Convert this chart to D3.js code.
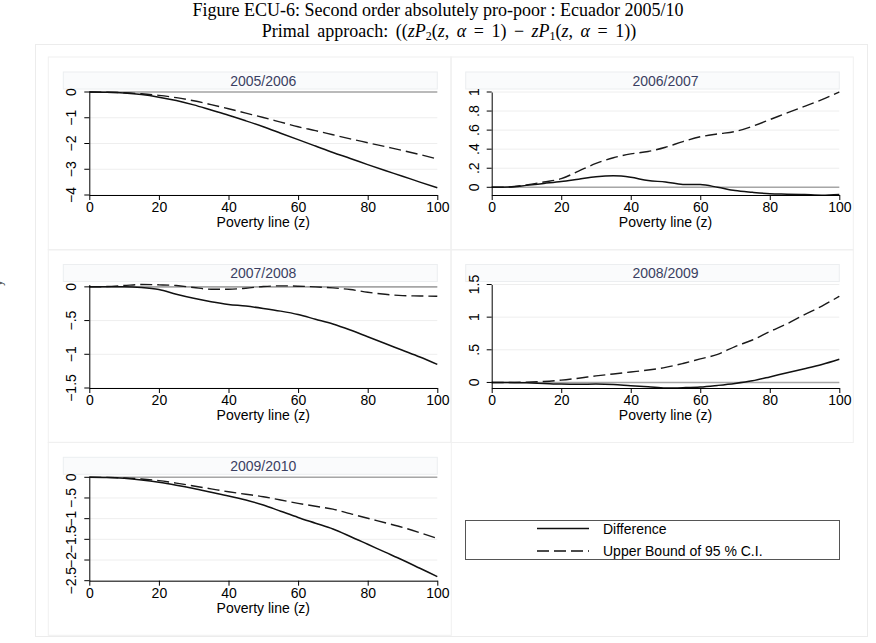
<!DOCTYPE html>
<html>
<head>
<meta charset="utf-8">
<script src="https://cdn.jsdelivr.net/npm/d3@7"></script>
<style>
  body { margin: 0; background: #fff; }
  svg { display: block; }
</style>
</head>
<body>
<div id="chart"></div>
<script>
var W = 876, H = 643;

// poverty line grid (z)
var zLine = [0, 5, 10, 15, 20, 25, 30, 35, 40, 45, 50, 55, 60, 65, 70, 75, 80, 85, 90, 95, 100];

var years = ['2005/2006', '2006/2007', '2007/2008', '2008/2009', '2009/2010'];

var diff0506 = [0, -0.01, -0.04, -0.1, -0.2, -0.33, -0.5, -0.7, -0.9, -1.12, -1.35, -1.6, -1.85, -2.1, -2.35, -2.58, -2.82, -3.05, -3.27, -3.5, -3.72];
var upper0506 = [0, -0.01, -0.03, -0.07, -0.13, -0.22, -0.34, -0.49, -0.65, -0.82, -0.99, -1.17, -1.35, -1.5, -1.66, -1.82, -1.97, -2.12, -2.27, -2.43, -2.6];

var diff0607 = [0, 0.003, 0.02, 0.04, 0.06, 0.085, 0.11, 0.12, 0.105, 0.07, 0.056, 0.03, 0.028, 0.0, -0.035, -0.053, -0.067, -0.072, -0.077, -0.083, -0.075];
var upper0607 = [0, 0.003, 0.025, 0.055, 0.09, 0.17, 0.25, 0.31, 0.35, 0.375, 0.42, 0.48, 0.53, 0.56, 0.585, 0.64, 0.71, 0.78, 0.85, 0.92, 1.0];

var diff0708 = [0, 0, 0, -0.01, -0.04, -0.11, -0.17, -0.22, -0.26, -0.285, -0.32, -0.36, -0.41, -0.48, -0.55, -0.64, -0.74, -0.84, -0.94, -1.04, -1.15];
var upper0708 = [0, 0.005, 0.02, 0.035, 0.03, 0.02, -0.01, -0.035, -0.035, -0.02, 0.005, 0.015, 0.01, 0, -0.015, -0.04, -0.08, -0.11, -0.13, -0.135, -0.14];

var diff0809 = [0, 0, -0.005, -0.015, -0.025, -0.028, -0.025, -0.03, -0.05, -0.065, -0.085, -0.08, -0.07, -0.045, -0.015, 0.025, 0.085, 0.15, 0.21, 0.275, 0.355];
var upper0809 = [0, 0, 0.005, 0.015, 0.035, 0.065, 0.1, 0.13, 0.16, 0.19, 0.23, 0.29, 0.36, 0.43, 0.55, 0.65, 0.78, 0.9, 1.04, 1.17, 1.32];

var diff0910 = [0, -0.005, -0.025, -0.065, -0.12, -0.19, -0.27, -0.36, -0.45, -0.55, -0.67, -0.82, -0.97, -1.11, -1.25, -1.43, -1.62, -1.81, -2.0, -2.2, -2.4];
var upper0910 = [0, -0.003, -0.015, -0.04, -0.08, -0.14, -0.21, -0.28, -0.35, -0.41, -0.47, -0.55, -0.63, -0.7, -0.77, -0.88, -0.99, -1.1, -1.21, -1.34, -1.48];

var xTicks = [0, 20, 40, 60, 80, 100];
var yTicks = [
  [0, -1, -2, -3, -4],
  [0, 0.2, 0.4, 0.6, 0.8, 1],
  [0, -0.5, -1, -1.5],
  [0, 0.5, 1, 1.5],
  [0, -0.5, -1, -1.5, -2, -2.5]
];
var yDomains = [[-4, 0], [-0.081, 1], [-1.5, 0.035], [-0.085, 1.5], [-2.5, 0]];
var diffs = [diff0506, diff0607, diff0708, diff0809, diff0910];
var uppers = [upper0506, upper0607, upper0708, upper0809, upper0910];
var legendLabels = ['Difference', 'Upper Bound of 95 % C.I.'];

var svg = d3.select('#chart').append('svg')
  .attr('width', W)
  .attr('height', H);

var sans = '"Liberation Sans", Arial, Helvetica, sans-serif';
var serif = '"Liberation Serif", "Times New Roman", serif';
var dash = '12,5';
var fs = '14px';

// figure title
svg.append('text')
  .attr('x', 438).attr('y', 16)
  .attr('text-anchor', 'middle')
  .style('font-family', serif).style('font-size', '18px')
  .text('Figure ECU-6: Second order absolutely pro-poor : Ecuador 2005/10');

var t2 = svg.append('text')
  .attr('x', 449).attr('y', 37)
  .attr('text-anchor', 'middle')
  .style('font-family', serif).style('font-size', '18px')
  .style('word-spacing', '3px');
t2.append('tspan').text('Primal approach: ((');
t2.append('tspan').style('font-style', 'italic').text('zP');
t2.append('tspan').attr('dy', 3).style('font-size', '12px').text('2');
t2.append('tspan').attr('dy', -3).text('(');
t2.append('tspan').style('font-style', 'italic').text('z');
t2.append('tspan').text(', ');
t2.append('tspan').style('font-style', 'italic').text('\u03b1');
t2.append('tspan').text(' = 1) \u2212 ');
t2.append('tspan').style('font-style', 'italic').text('zP');
t2.append('tspan').attr('dy', 3).style('font-size', '12px').text('1');
t2.append('tspan').attr('dy', -3).text('(');
t2.append('tspan').style('font-style', 'italic').text('z');
t2.append('tspan').text(', ');
t2.append('tspan').style('font-style', 'italic').text('\u03b1');
t2.append('tspan').text(' = 1))');

// outer combine box
svg.append('rect')
  .attr('x', 35.5).attr('y', 44.5)
  .attr('width', 832).attr('height', 592)
  .attr('fill', 'none').attr('stroke', '#ececec');

// clipped axis title at the left edge
svg.append('text')
  .attr('transform', 'translate(2,283) rotate(-90)')
  .attr('text-anchor', 'middle')
  .style('font-family', sans).style('font-size', '12px')
  .attr('fill', '#555')
  .text('y');

var cols = [[89.3, 437.3], [491.7, 839.3]];
var rows = [[92, 195], [284.5, 388], [477.3, 580.7]];

function fmt(v) {
  var s = d3.format('~g')(Math.abs(v)).replace(/^0\./, '.');
  return (v < 0 ? '\u2212' : '') + s;
}

years.forEach(function(yr, i) {
  var c = cols[i % 2], r = rows[Math.floor(i / 2)];
  var x = d3.scaleLinear().domain([0, 100]).range(c);
  var y = d3.scaleLinear().domain(yDomains[i]).range([r[1], r[0]]);
  var g = svg.append('g');

  // panel region
  g.append('rect')
    .attr('x', c[0] - 41).attr('y', r[0] - 35)
    .attr('width', c[1] - c[0] + 55).attr('height', 193)
    .attr('fill', 'none').attr('stroke', '#f0f0f0');

  // title strip
  g.append('rect')
    .attr('x', c[0] - 26).attr('y', r[0] - 20)
    .attr('width', c[1] - c[0] + 26).attr('height', 17)
    .attr('fill', '#fafbfc').attr('stroke', '#eceef0');
  g.append('text')
    .attr('x', (c[0] + c[1]) / 2).attr('y', r[0] - 6.5)
    .attr('text-anchor', 'middle')
    .style('font-family', sans).style('font-size', fs)
    .attr('fill', '#3a3f62')
    .text(yr);

  // grid
  g.selectAll('.grid').data(yTicks[i]).enter().append('line')
    .attr('x1', c[0]).attr('x2', c[1])
    .attr('y1', function(d) { return y(d); })
    .attr('y2', function(d) { return y(d); })
    .attr('stroke', '#eeeeee').attr('stroke-width', 1);

  // zero line
  g.append('line')
    .attr('x1', c[0]).attr('x2', c[1])
    .attr('y1', y(0)).attr('y2', y(0))
    .attr('stroke', '#a6a6a6').attr('stroke-width', 1.6);

  var line = d3.line()
    .x(function(d, j) { return x(zLine[j]); })
    .y(function(d) { return y(d); })
    .curve(d3.curveMonotoneX);

  g.append('path').datum(uppers[i])
    .attr('d', line)
    .attr('fill', 'none').attr('stroke', '#1a1a1a')
    .attr('stroke-width', 1.4).attr('stroke-dasharray', dash);
  g.append('path').datum(diffs[i])
    .attr('d', line)
    .attr('fill', 'none').attr('stroke', '#111')
    .attr('stroke-width', 1.5);

  // axes
  var xa = g.append('g')
    .attr('transform', 'translate(0,' + r[1] + ')')
    .call(d3.axisBottom(x).tickValues(xTicks).tickSize(5).tickPadding(2).tickSizeOuter(0));
  xa.selectAll('text').style('font-family', sans).style('font-size', fs).attr('fill', '#000');

  var ya = g.append('g')
    .attr('transform', 'translate(' + c[0] + ',0)')
    .call(d3.axisLeft(y).tickValues(yTicks[i]).tickFormat(fmt).tickSize(5).tickSizeOuter(0));
  ya.selectAll('text')
    .attr('transform', function(d) { return 'translate(-13,' + y(d) + ') rotate(-90)'; })
    .attr('x', 0).attr('y', 0).attr('dy', 0)
    .attr('text-anchor', 'middle')
    .style('font-family', sans).style('font-size', fs).attr('fill', '#000');
  ya.selectAll('.tick').attr('transform', null);
  ya.selectAll('.tick line')
    .attr('y1', function(d) { return y(d); })
    .attr('y2', function(d) { return y(d); });

  g.selectAll('.domain').attr('stroke', '#000');

  g.append('text')
    .attr('x', (c[0] + c[1]) / 2).attr('y', r[1] + 32)
    .attr('text-anchor', 'middle')
    .style('font-family', sans).style('font-size', fs)
    .text('Poverty line (z)');
});

// legend
var lg = svg.append('g');
lg.append('rect')
  .attr('x', 465.5).attr('y', 520.5)
  .attr('width', 374).attr('height', 39)
  .attr('fill', '#fff').attr('stroke', '#555');
legendLabels.forEach(function(lab, i) {
  var ly = 528.5 + i * 22.5;
  lg.append('line')
    .attr('x1', 537).attr('x2', 589)
    .attr('y1', ly).attr('y2', ly)
    .attr('stroke', '#111').attr('stroke-width', 1.4)
    .attr('stroke-dasharray', i ? dash : null);
  lg.append('text')
    .attr('x', 603).attr('y', ly + 5)
    .style('font-family', sans).style('font-size', fs)
    .text(lab);
});
</script>
</body>
</html>
